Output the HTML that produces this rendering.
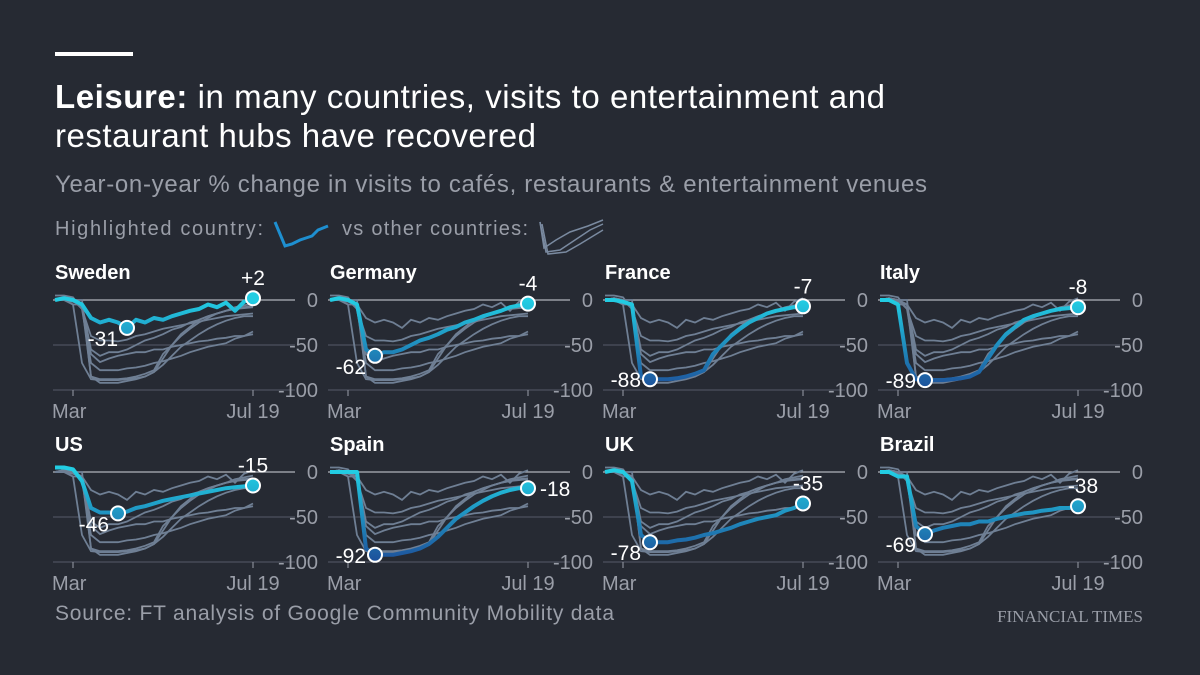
<!DOCTYPE html>
<html><head><meta charset="utf-8"><style>
body{margin:0;background:#262a33;width:1200px;height:675px;overflow:hidden;font-family:"Liberation Sans",sans-serif}
svg{display:block}
</style></head><body>
<svg id="chart" width="1200" height="675">
<defs>
<linearGradient id="g0" gradientUnits="userSpaceOnUse" x1="0" y1="300" x2="0" y2="390"><stop offset="0" stop-color="#22cde3"/><stop offset="1" stop-color="#1d4f9a"/></linearGradient>
<linearGradient id="g1" gradientUnits="userSpaceOnUse" x1="0" y1="472" x2="0" y2="562"><stop offset="0" stop-color="#22cde3"/><stop offset="1" stop-color="#1d4f9a"/></linearGradient>
</defs>
<rect x="55" y="52" width="78" height="4" fill="#fff"/>
<text x="55" y="108" fill="#fff" font-size="33" textLength="830" lengthAdjust="spacing"><tspan font-weight="bold">Leisure:</tspan> in many countries, visits to entertainment and</text>
<text x="55" y="147" fill="#fff" font-size="33" textLength="481" lengthAdjust="spacing">restaurant hubs have recovered</text>
<text x="55" y="192" fill="#9a9ea8" font-size="24" textLength="872" lengthAdjust="spacing">Year-on-year % change in visits to cafés, restaurants &amp; entertainment venues</text>
<g>
<text x="55" y="235" fill="#9a9ea8" font-size="20" textLength="208" lengthAdjust="spacing">Highlighted country:</text>
<path d="M275 222 L285 246 L292 244 L300 240 L312 236 L318 230 L328 226" fill="none" stroke="#1e8fd0" stroke-width="3"/>
<text x="342" y="235" fill="#9a9ea8" font-size="20" textLength="186" lengthAdjust="spacing">vs other countries:</text>
<g fill="none" stroke="#7a8aa0" stroke-width="1.5">
<path d="M540 222 L544 248 L556 240 L570 232 L588 226 L603 220"/>
<path d="M540 222 L546 252 L560 250 L575 240 L590 230 L603 224"/>
<path d="M542 224 L548 254 L566 252 L580 244 L603 230"/>
</g>
</g>
<g id="panels"></g>
<text x="55" y="620" fill="#9a9ea8" font-size="21" textLength="559" lengthAdjust="spacing">Source: FT analysis of Google Community Mobility data</text>
<text x="1143" y="622" fill="#9a9ea8" font-size="17" text-anchor="end" font-family="Liberation Serif, serif">FINANCIAL TIMES</text>
</svg>
<script>
const countries=["Sweden","Germany","France","Italy","US","Spain","UK","Brazil"];
const sweden=[0,2,0,-5,-20,-25,-22,-25,-31,-22,-25,-20,-22,-18,-15,-12,-10,-5,-8,-3,-12,-2,2];
const germany=[0,2,0,-5,-55,-62,-58,-58,-55,-50,-45,-42,-38,-33,-30,-25,-22,-18,-15,-12,-8,-6,-4];
const france=[0,0,-2,-5,-85,-88,-88,-88,-87,-85,-82,-78,-60,-50,-40,-32,-25,-20,-15,-12,-10,-8,-7];
const italy=[0,0,-5,-70,-88,-89,-89,-89,-88,-87,-85,-80,-65,-50,-38,-30,-22,-18,-15,-12,-10,-9,-8];
const us=[5,5,3,-10,-40,-45,-45,-46,-44,-40,-38,-35,-32,-30,-28,-26,-24,-22,-20,-18,-17,-16,-15];
const spain=[0,0,0,0,-85,-92,-92,-92,-90,-88,-85,-80,-72,-62,-52,-45,-38,-32,-27,-23,-20,-18,-18];
const uk=[0,2,0,-10,-70,-78,-78,-78,-76,-75,-73,-70,-68,-65,-62,-58,-55,-52,-50,-48,-43,-40,-35];
const brazil=[0,0,-5,-5,-60,-69,-65,-62,-60,-58,-58,-55,-55,-52,-50,-48,-46,-45,-43,-42,-40,-40,-38];
const series=[sweden,germany,france,italy,us,spain,uk,brazil];
const yTicks=[0,-50,-100];
const xTickLabels=["Mar","Jul 19"];
const xTickIdx=[2,22];
const NS="http://www.w3.org/2000/svg";
const root=document.getElementById("panels");
function mk(tag,attrs,parent){const e=document.createElementNS(NS,tag);for(const k in attrs)e.setAttribute(k,attrs[k]);parent.appendChild(e);return e;}
function fmt(v){return v>0?"+"+v:""+v;}
series.forEach((s,ci)=>{
  const col=ci%4,row=Math.floor(ci/4);
  const x0=55+col*275, y0=row?472:300;
  const X=i=>x0+i*198/(s.length-1);
  const Y=v=>y0-v*0.9;
  const g=mk("g",{},root);
  
  
  const t=mk("text",{x:x0,y:y0-21,fill:"#fff","font-size":20,"font-weight":"bold"},g);t.textContent=countries[ci];
  
  
  yTicks.forEach(v=>{
    const l=mk("line",{x1:x0-2,x2:x0+240,y1:Y(v),y2:Y(v),stroke:v===0?"#b0b4bc":"#4c525e","stroke-width":1.2},g);
    
    
    const tl=mk("text",{x:x0+263,y:Y(v)+7,fill:"#9a9ea8","font-size":20,"text-anchor":"end"},g);tl.textContent=v;
    
    
  });
  xTickLabels.forEach((lab,k)=>{
    const xi=X(xTickIdx[k]);
    mk("line",{x1:xi,x2:xi,y1:Y(-100),y2:Y(-100)+6,stroke:"#9a9ea8"},g);
    const tl=mk("text",{x:k?xi:x0-3,y:Y(-100)+28,fill:"#9a9ea8","font-size":20,"text-anchor":k?"middle":"start"},g);tl.textContent=lab;
    
    
  });
  series.forEach((o,oi)=>{if(oi===ci)return;
    const p=mk("path",{d:o.map((v,i)=>(i?"L":"M")+X(i).toFixed(1)+" "+Y(v).toFixed(1)).join(""),fill:"none",stroke:"#6f7f94","stroke-width":1.8},g);
    
    
  });
  const grad=row?"url(#g1)":"url(#g0)";
  const hp=mk("path",{d:s.map((v,i)=>(i?"L":"M")+X(i).toFixed(1)+" "+Y(v).toFixed(1)).join(""),fill:"none",stroke:grad,"stroke-width":4,"stroke-linejoin":"round"},g);
  
  
  let mi=0;s.forEach((v,i)=>{if(v<s[mi])mi=i;});
  const last=s.length-1;
  [[mi,"min"],[last,"end"]].forEach(([i,kind])=>{
    const c=mk("circle",{cx:X(i),cy:Y(s[i]),r:7,fill:grad,stroke:"#fff","stroke-width":2},g);
    
    
    let tx,ty,anc;
    if(kind==="min"){tx=X(i)-9;ty=Y(s[i])+(s[i]<-80?8:18);anc="end";}
    else if(ci===5){tx=X(i)+12;ty=Y(s[i])+8;anc="start";}
    else {tx=X(i)+(ci>=6?5:0);ty=Y(s[i])-13;anc="middle";}
    const lt=mk("text",{x:tx,y:ty,fill:"#fff","font-size":21,"text-anchor":anc},g);lt.textContent=fmt(s[i]);
    
    
  });
});
</script>
</body></html>
